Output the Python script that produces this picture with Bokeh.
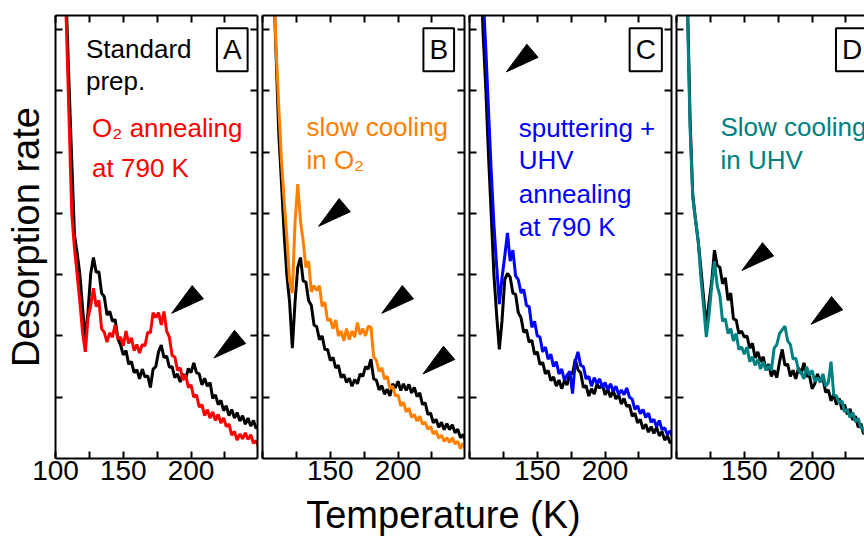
from bokeh.plotting import figure
from bokeh.models import Range1d, FixedTicker, LinearAxis, Label
from bokeh.layouts import row, column
from bokeh.embed import file_html
from bokeh.resources import INLINE

FONT = "Liberation Sans"

# ---------------- data ----------------
T_K = [106, 108, 110, 112, 114, 116, 118, 120,
       122, 124, 126, 128, 130, 132, 134, 136,
       138, 140, 142, 144, 146, 148, 150, 152,
       154, 156, 158, 160, 162, 164, 166, 168,
       170, 172, 174, 176, 178, 180, 182, 184,
       186, 188, 190, 192, 194, 196, 198, 200,
       202, 204, 206, 208, 210, 212, 214, 216,
       218, 220, 222, 224, 226, 228, 230, 232,
       234, 236, 238, 240, 242, 244, 246, 248, 250]

A_standard = [8.6, 7.4, 6.1, 4.85, 3.65, 3.35, 3.0, 2.45,
              1.95, 2.40, 3.02, 3.28, 3.04, 3.05, 2.70, 2.64,
              2.34, 2.40, 2.24, 2.27, 1.96, 1.85, 1.69, 1.76,
              1.54, 1.58, 1.40, 1.45, 1.30, 1.46, 1.33, 1.35,
              1.16, 1.46, 1.50, 1.74, 1.85, 1.65, 1.67, 1.49,
              1.50, 1.32, 1.38, 1.25, 1.38, 1.30, 1.47, 1.40,
              1.56, 1.40, 1.38, 1.20, 1.31, 1.18, 1.24, 0.98,
              1.04, 0.88, 0.95, 0.78, 0.86, 0.70, 0.80, 0.66,
              0.75, 0.61, 0.70, 0.56, 0.66, 0.53, 0.62, 0.49, 0.56]
A_o2_anneal = [8.4, 7.1, 5.55, 4.0, 3.43, 3.0, 2.55, 2.05,
               1.74, 2.30, 2.50, 2.78, 2.48, 2.58, 2.12, 2.06,
               1.90, 2.05, 1.98, 2.18, 1.95, 1.98, 1.84, 2.08,
               1.88, 1.97, 1.76, 1.86, 1.72, 1.86, 1.84, 2.06,
               2.05, 2.38, 2.30, 2.38, 2.18, 2.40, 2.08, 1.98,
               1.68, 1.66, 1.44, 1.48, 1.28, 1.36, 1.16, 1.20,
               1.00, 1.04, 0.84, 0.88, 0.70, 0.80, 0.66, 0.76,
               0.62, 0.72, 0.58, 0.66, 0.52, 0.56, 0.38, 0.44,
               0.30, 0.40, 0.32, 0.42, 0.31, 0.39, 0.25, 0.29, 0.17]
B_standard = [9.2, 7.9, 6.6, 5.3, 4.5, 3.65, 2.98, 2.55,
              1.80, 2.55, 3.12, 3.28, 2.90, 2.88, 2.58, 2.50,
              2.18, 2.15, 1.94, 2.00, 1.78, 1.78, 1.60, 1.65,
              1.48, 1.52, 1.32, 1.37, 1.24, 1.31, 1.18, 1.29,
              1.22, 1.38, 1.34, 1.50, 1.46, 1.62, 1.30, 1.28,
              1.12, 1.19, 1.05, 1.13, 1.02, 1.22, 1.15, 1.26,
              1.11, 1.22, 1.11, 1.21, 1.07, 1.16, 1.01, 1.07,
              0.88, 0.91, 0.72, 0.74, 0.58, 0.64, 0.51, 0.59,
              0.47, 0.57, 0.47, 0.55, 0.42, 0.48, 0.34, 0.39, 0.26]
B_slow_o2 = [9.3, 7.95, 6.7, 5.75, 4.86, 4.2, 3.6, 2.9,
             2.70, 3.85, 4.48, 3.88, 3.55, 3.12, 3.22, 2.72,
             2.82, 2.74, 2.82, 2.48, 2.55, 2.25, 2.28, 2.12,
             2.26, 2.00, 2.08, 1.92, 2.12, 1.94, 2.08, 1.98,
             2.22, 2.02, 2.12, 2.00, 2.16, 2.14, 1.66, 1.60,
             1.42, 1.48, 1.30, 1.34, 1.14, 1.18, 1.02, 1.04,
             0.86, 0.92, 0.76, 0.82, 0.67, 0.72, 0.61, 0.69,
             0.56, 0.59, 0.48, 0.52, 0.40, 0.45, 0.33, 0.38,
             0.28, 0.34, 0.26, 0.34, 0.24, 0.28, 0.16, 0.25, 0.14]
C_standard = [9.6, 8.2, 6.95, 6.05, 4.95, 4.0, 3.0, 2.35,
              1.78, 2.25, 2.92, 3.02, 2.96, 2.70, 2.68, 2.38,
              2.30, 2.06, 2.10, 1.90, 1.93, 1.70, 1.74, 1.53,
              1.57, 1.38, 1.44, 1.27, 1.33, 1.18, 1.28, 1.14,
              1.27, 1.20, 1.41, 1.38, 1.62, 1.45, 1.40, 1.16,
              1.19, 1.02, 1.14, 1.05, 1.21, 1.15, 1.21, 1.04,
              1.13, 1.00, 1.11, 0.97, 1.04, 0.89, 0.98, 0.85,
              0.87, 0.69, 0.74, 0.58, 0.64, 0.48, 0.56, 0.43,
              0.52, 0.41, 0.51, 0.37, 0.44, 0.30, 0.37, 0.25, 0.31]
C_sputter_uhv = [10.0, 8.6, 7.6, 6.7, 5.7, 4.7, 3.82, 3.15,
                 2.52, 2.95, 3.30, 3.68, 3.22, 3.40, 2.98, 2.92,
                 2.70, 2.76, 2.50, 2.48, 2.14, 2.24, 2.00, 1.98,
                 1.74, 1.82, 1.62, 1.70, 1.50, 1.58, 1.38, 1.46,
                 1.28, 1.36, 1.42, 1.06, 1.58, 1.74, 1.52, 1.50,
                 1.30, 1.34, 1.18, 1.32, 1.22, 1.30, 1.16, 1.24,
                 1.12, 1.22, 1.10, 1.18, 1.04, 1.12, 1.04, 1.15,
                 1.00, 0.97, 0.80, 0.86, 0.73, 0.80, 0.67, 0.74,
                 0.59, 0.64, 0.52, 0.62, 0.47, 0.50, 0.39, 0.45, 0.34]
D_standard = [9.0, 7.55, 5.55, 4.3, 3.9, 3.55, 3.1, 2.62,
              2.15, 2.55, 2.90, 3.40, 3.15, 3.12, 2.85, 2.95,
              2.58, 2.70, 2.28, 2.26, 2.04, 2.08, 1.98, 2.00,
              1.80, 1.88, 1.64, 1.74, 1.58, 1.66, 1.44, 1.54,
              1.34, 1.44, 1.32, 1.58, 1.78, 1.52, 1.54, 1.34,
              1.44, 1.30, 1.48, 1.38, 1.56, 1.34, 1.36, 1.14,
              1.22, 1.38, 1.26, 1.32, 1.08, 1.12, 0.94, 1.05,
              0.88, 0.98, 0.80, 0.88, 0.72, 0.81, 0.63, 0.69,
              0.51, 0.57, 0.40, 0.45, 0.31, 0.37, 0.24, 0.30, 0.19]
D_slow_uhv = [8.8, 7.4, 5.4, 4.25, 3.9, 3.55, 2.95, 2.48,
              1.98, 2.35, 2.82, 3.22, 2.82, 2.66, 2.24, 2.28,
              2.04, 2.12, 1.92, 2.04, 1.78, 1.82, 1.70, 1.82,
              1.58, 1.66, 1.52, 1.62, 1.46, 1.58, 1.44, 1.52,
              1.44, 1.80, 1.86, 2.04, 2.10, 2.16, 1.92, 1.86,
              1.62, 1.64, 1.44, 1.40, 1.30, 1.50, 1.36, 1.44,
              1.26, 1.32, 1.24, 1.38, 1.18, 1.24, 1.58, 1.04,
              1.02, 0.90, 0.94, 0.76, 0.80, 0.67, 0.75, 0.60,
              0.66, 0.50, 0.48, 0.32, 0.30, 0.26, 0.22, 0.20, 0.18]

X_TICKS = [100, 125, 150, 175, 200, 225]
Y_TICKS = [1, 2, 3, 4, 5, 6, 7]

# arrow tip positions (temperature, rate)
A_arrow_T = [185.7, 216.9]
A_arrow_Y = [2.37, 1.64]
B_arrow_T = [141.4, 188.0, 218.4]
B_arrow_Y = [3.79, 2.37, 1.38]
C_arrow_T = [127.2]
C_arrow_Y = [6.31]
D_arrow_T = [148.3, 199.2]
D_arrow_Y = [3.07, 2.19]

Y_MAX = 7.23
PANEL_H = 494
LABEL_H = 536 - PANEL_H
NOTE_PX = 26
MID_SHIFT = 0.35  # text middle sits this many em above the baseline


def style_axis(ax, labels, ticks):
    ax.axis_line_width = 2
    ax.axis_line_color = "black"
    ax.major_tick_in = 7
    ax.major_tick_out = 0
    ax.major_tick_line_width = 2
    ax.major_tick_line_color = "black"
    ax.minor_tick_line_color = None
    ax.major_label_text_font = FONT
    ax.axis_label_standoff = 0
    if labels:
        ax.major_label_text_font_size = "28px"
        ax.major_label_text_color = "black"
        ax.major_label_standoff = 2
    else:
        ax.major_label_overrides = {t: "" for t in ticks}
        ax.major_label_text_font_size = "1px"
        ax.major_label_standoff = 0


def make_panel(std, trt, color, letter, letter_T, notes, arrow_T, arrow_Y,
               left_border, right_border, frame_w, x_end, shown_x,
               ylabel=None, right_axis=True):
    p = figure(frame_width=frame_w, height=PANEL_H,
               x_range=Range1d(100, x_end), y_range=Range1d(0, Y_MAX),
               min_border_left=left_border, min_border_right=right_border,
               min_border_top=15, min_border_bottom=36,
               x_axis_location=None, y_axis_location=None,
               toolbar_location=None, output_backend="svg")
    p.outline_line_color = None
    p.xgrid.visible = False
    p.ygrid.visible = False

    bottom = LinearAxis(ticker=FixedTicker(ticks=X_TICKS),
                        major_label_overrides={t: ("" if t not in shown_x else str(t)) for t in X_TICKS})
    style_axis(bottom, True, X_TICKS)
    p.add_layout(bottom, "below")

    top = LinearAxis(ticker=FixedTicker(ticks=X_TICKS))
    style_axis(top, False, X_TICKS)
    p.add_layout(top, "above")

    left = LinearAxis(ticker=FixedTicker(ticks=Y_TICKS))
    style_axis(left, False, Y_TICKS)
    if ylabel:
        left.axis_label = ylabel
        left.axis_label_text_font = FONT
        left.axis_label_text_font_size = "38px"
        left.axis_label_text_font_style = "normal"
        left.axis_label_text_color = "black"
        left.axis_label_standoff = 9
    p.add_layout(left, "left")

    if right_axis:
        right = LinearAxis(ticker=FixedTicker(ticks=Y_TICKS))
        style_axis(right, False, Y_TICKS)
        p.add_layout(right, "right")

    p.line(T_K, std, line_color="black", line_width=3)
    p.line(T_K, trt, line_color=color, line_width=3)

    # arrowheads: tip at the data point, pointing down-left
    sx = frame_w / (x_end - 100)
    sy = 443 / Y_MAX
    xs = [[t, t + 20.5 / sx, t + 31.7 / sx] for t in arrow_T]
    ys = [[y, y + 27.7 / sy, y + 14.5 / sy] for y in arrow_Y]
    p.patches(xs, ys, fill_color="black", line_color="black", line_width=1)

    # notes: (x, baseline y) -> placed by their middle
    for (tx, ty, txt, col) in notes:
        p.add_layout(Label(x=tx, y=ty + MID_SHIFT * NOTE_PX / sy, text=txt,
                           text_color=col, text_font=FONT,
                           text_font_size=f"{NOTE_PX}px", text_align="left",
                           text_baseline="middle"))

    p.add_layout(Label(x=letter_T, y=6.67, text=letter, text_font=FONT,
                       text_font_size="28px", text_color="black",
                       text_align="center", text_baseline="middle",
                       border_line_color="black", border_line_width=2,
                       background_fill_color="white", padding=6))
    return p


pA = make_panel(A_standard, A_o2_anneal, "#FF0000", "A", 230.4,
                [(122.5, 6.54, "Standard", "black"),
                 (122.5, 6.02, "prep.", "black"),
                 (127.0, 5.25, "O\u2082 annealing", "#FF0000"),
                 (127.0, 4.59, "at 790 K", "#FF0000")],
                A_arrow_T, A_arrow_Y, 55, 2, 202, 249, [100, 150, 200],
                ylabel="Desorption rate")
pB = make_panel(B_standard, B_slow_o2, "#FF8000", "B", 230.0,
                [(132.4, 5.26, "slow cooling", "#FF8000"),
                 (132.4, 4.72, "in O\u2082", "#FF8000")],
                B_arrow_T, B_arrow_Y, 3, 2, 202, 249, [150, 200])
pC = make_panel(C_standard, C_sputter_uhv, "#0000FF", "C", 230.0,
                [(136.3, 5.25, "sputtering +", "#0000FF"),
                 (136.3, 4.73, "UHV", "#0000FF"),
                 (136.3, 4.17, "annealing", "#0000FF"),
                 (136.3, 3.63, "at 790 K", "#0000FF")],
                C_arrow_T, C_arrow_Y, 3, 2, 202, 249, [150, 200])
pD = make_panel(D_standard, D_slow_uhv, "#008080", "D", 229.5,
                [(132.4, 5.26, "Slow cooling", "#008080"),
                 (132.4, 4.73, "in UHV", "#008080")],
                D_arrow_T, D_arrow_Y, 3, 0, 188, 100 + 188 / (202 / 149), [150, 200],
                right_axis=False)

lab = figure(width=864, height=LABEL_H, x_range=Range1d(0, 864), y_range=Range1d(0, LABEL_H),
             min_border=0, min_border_left=0, min_border_right=0,
             min_border_top=0, min_border_bottom=0,
             x_axis_location=None, y_axis_location=None,
             toolbar_location=None, output_backend="svg")
lab.outline_line_color = None
lab.xgrid.visible = False
lab.ygrid.visible = False
lab.add_layout(Label(x=443, y=8 + MID_SHIFT * 38, text="Temperature (K)", text_font=FONT,
                     text_font_size="38px", text_color="black",
                     text_align="center", text_baseline="middle"))

layout = column(row(pA, pB, pC, pD), lab)

open("out.html", "w").write(file_html(layout, INLINE))
